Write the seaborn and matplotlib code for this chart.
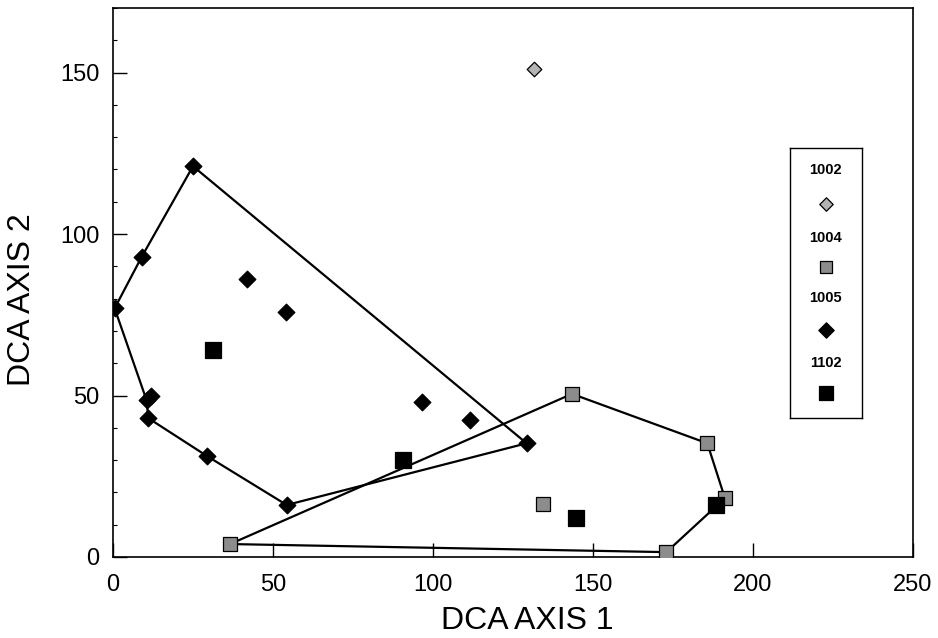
import pandas as pd
import matplotlib
matplotlib.use('Agg')
import matplotlib.pyplot as plt
import seaborn as sns

# sample scores on the two DCA axes, per plot
x_1002 = [131.5]
y_1002 = [151.0]

x_1004 = [36.6, 143.5, 185.8, 191.3, 173.0, 134.3]
y_1004 = [4.0, 50.5, 35.2, 18.2, 1.5, 16.3]
hull_1004 = [0, 1, 2, 3, 4, 0]

x_1005 = [0.5, 9.0, 25.0, 42.0, 54.0, 96.5, 111.5, 129.3, 54.3, 29.3, 11.0, 10.5, 12.0]
y_1005 = [77.0, 93.0, 121.0, 86.0, 76.0, 48.0, 42.3, 35.2, 16.1, 31.3, 43.0, 48.5, 50.0]
hull_1005 = [0, 1, 2, 7, 8, 9, 10, 11, 0]

x_1102 = [31.3, 90.7, 144.6, 188.4]
y_1102 = [64.2, 30.1, 12.2, 16.1]

groups = ['1002', '1004', '1005', '1102']
markers = {'1002': 'D', '1004': 's', '1005': 'D', '1102': 's'}
colors = {'1002': '#b4b4b4', '1004': '#8c8c8c', '1005': 'black', '1102': 'black'}
sizes = {'1002': 55, '1004': 100, '1005': 72, '1102': 125}

sns.set_style('ticks')
plt.rcParams['font.family'] = ['Liberation Sans', 'DejaVu Sans']
plt.rcParams['text.color'] = 'black'
plt.rcParams['axes.labelcolor'] = 'black'
plt.rcParams['xtick.color'] = 'black'
plt.rcParams['ytick.color'] = 'black'

df = pd.concat([
    pd.DataFrame({'x': x_1002, 'y': y_1002, 'plot': '1002'}),
    pd.DataFrame({'x': x_1004, 'y': y_1004, 'plot': '1004'}),
    pd.DataFrame({'x': x_1005, 'y': y_1005, 'plot': '1005'}),
    pd.DataFrame({'x': x_1102, 'y': y_1102, 'plot': '1102'}),
], ignore_index=True)

hulls = pd.concat([
    pd.DataFrame({'x': [x_1005[i] for i in hull_1005], 'y': [y_1005[i] for i in hull_1005],
                  'plot': '1005'}),
    pd.DataFrame({'x': [x_1004[i] for i in hull_1004], 'y': [y_1004[i] for i in hull_1004],
                  'plot': '1004'}),
], ignore_index=True)

fig = plt.figure(figsize=(9.38, 6.38), dpi=100)
ax = fig.add_axes([0.1205, 0.127, 0.8525, 0.8605])

# convex hulls
for g, sub in hulls.groupby('plot'):
    sns.lineplot(data=sub, x='x', y='y', sort=False, estimator=None,
                 color='black', linewidth=1.6, ax=ax)

# points
for g in groups:
    sub = df[df['plot'] == g]
    sns.scatterplot(data=sub, x='x', y='y', marker=markers[g], s=sizes[g],
                    color=colors[g], edgecolor='black', linewidth=0.9, ax=ax, zorder=3)

ax.set_xlim(0, 250)
ax.set_ylim(0, 170)
ax.set_xticks([0, 50, 100, 150, 200, 250])
ax.set_yticks([0, 50, 100, 150])
ax.set_yticks(range(0, 171, 10), minor=True)
ax.tick_params(direction='in', length=10, width=1, labelsize=17)
ax.tick_params(axis='x', pad=12)
ax.tick_params(axis='y', pad=10)
ax.tick_params(which='minor', direction='in', length=3, width=0.8)
ax.set_xlabel('DCA AXIS 1', fontsize=23, va='center')
ax.set_ylabel('DCA AXIS 2', fontsize=23, va='center')
ax.xaxis.set_label_coords(0.5175, -0.117)
ax.yaxis.set_label_coords(-0.114, 0.468)
for s in ax.spines.values():
    s.set_visible(True)
    s.set_linewidth(1.2)
    s.set_color('black')

# legend box: label above its marker
lax = fig.add_axes([0.842, 0.345, 0.077, 0.423])
lax.set_xlim(0, 1)
lax.set_ylim(0, 1)
lax.set_xticks([])
lax.set_yticks([])
for s in lax.spines.values():
    s.set_linewidth(1.0)
    s.set_color('black')
label_y = [0.919, 0.667, 0.444, 0.204]
mark_y = [0.793, 0.559, 0.326, 0.093]
for g, ty, my in zip(groups, label_y, mark_y):
    lax.text(0.5, ty, g, ha='center', va='center', fontsize=10.5, fontweight='bold')
    lax.scatter([0.5], [my], marker=markers[g], s=sizes[g] * 0.85,
                color=colors[g], edgecolor='black', linewidth=0.9)

fig.savefig('out.png', dpi=100)
